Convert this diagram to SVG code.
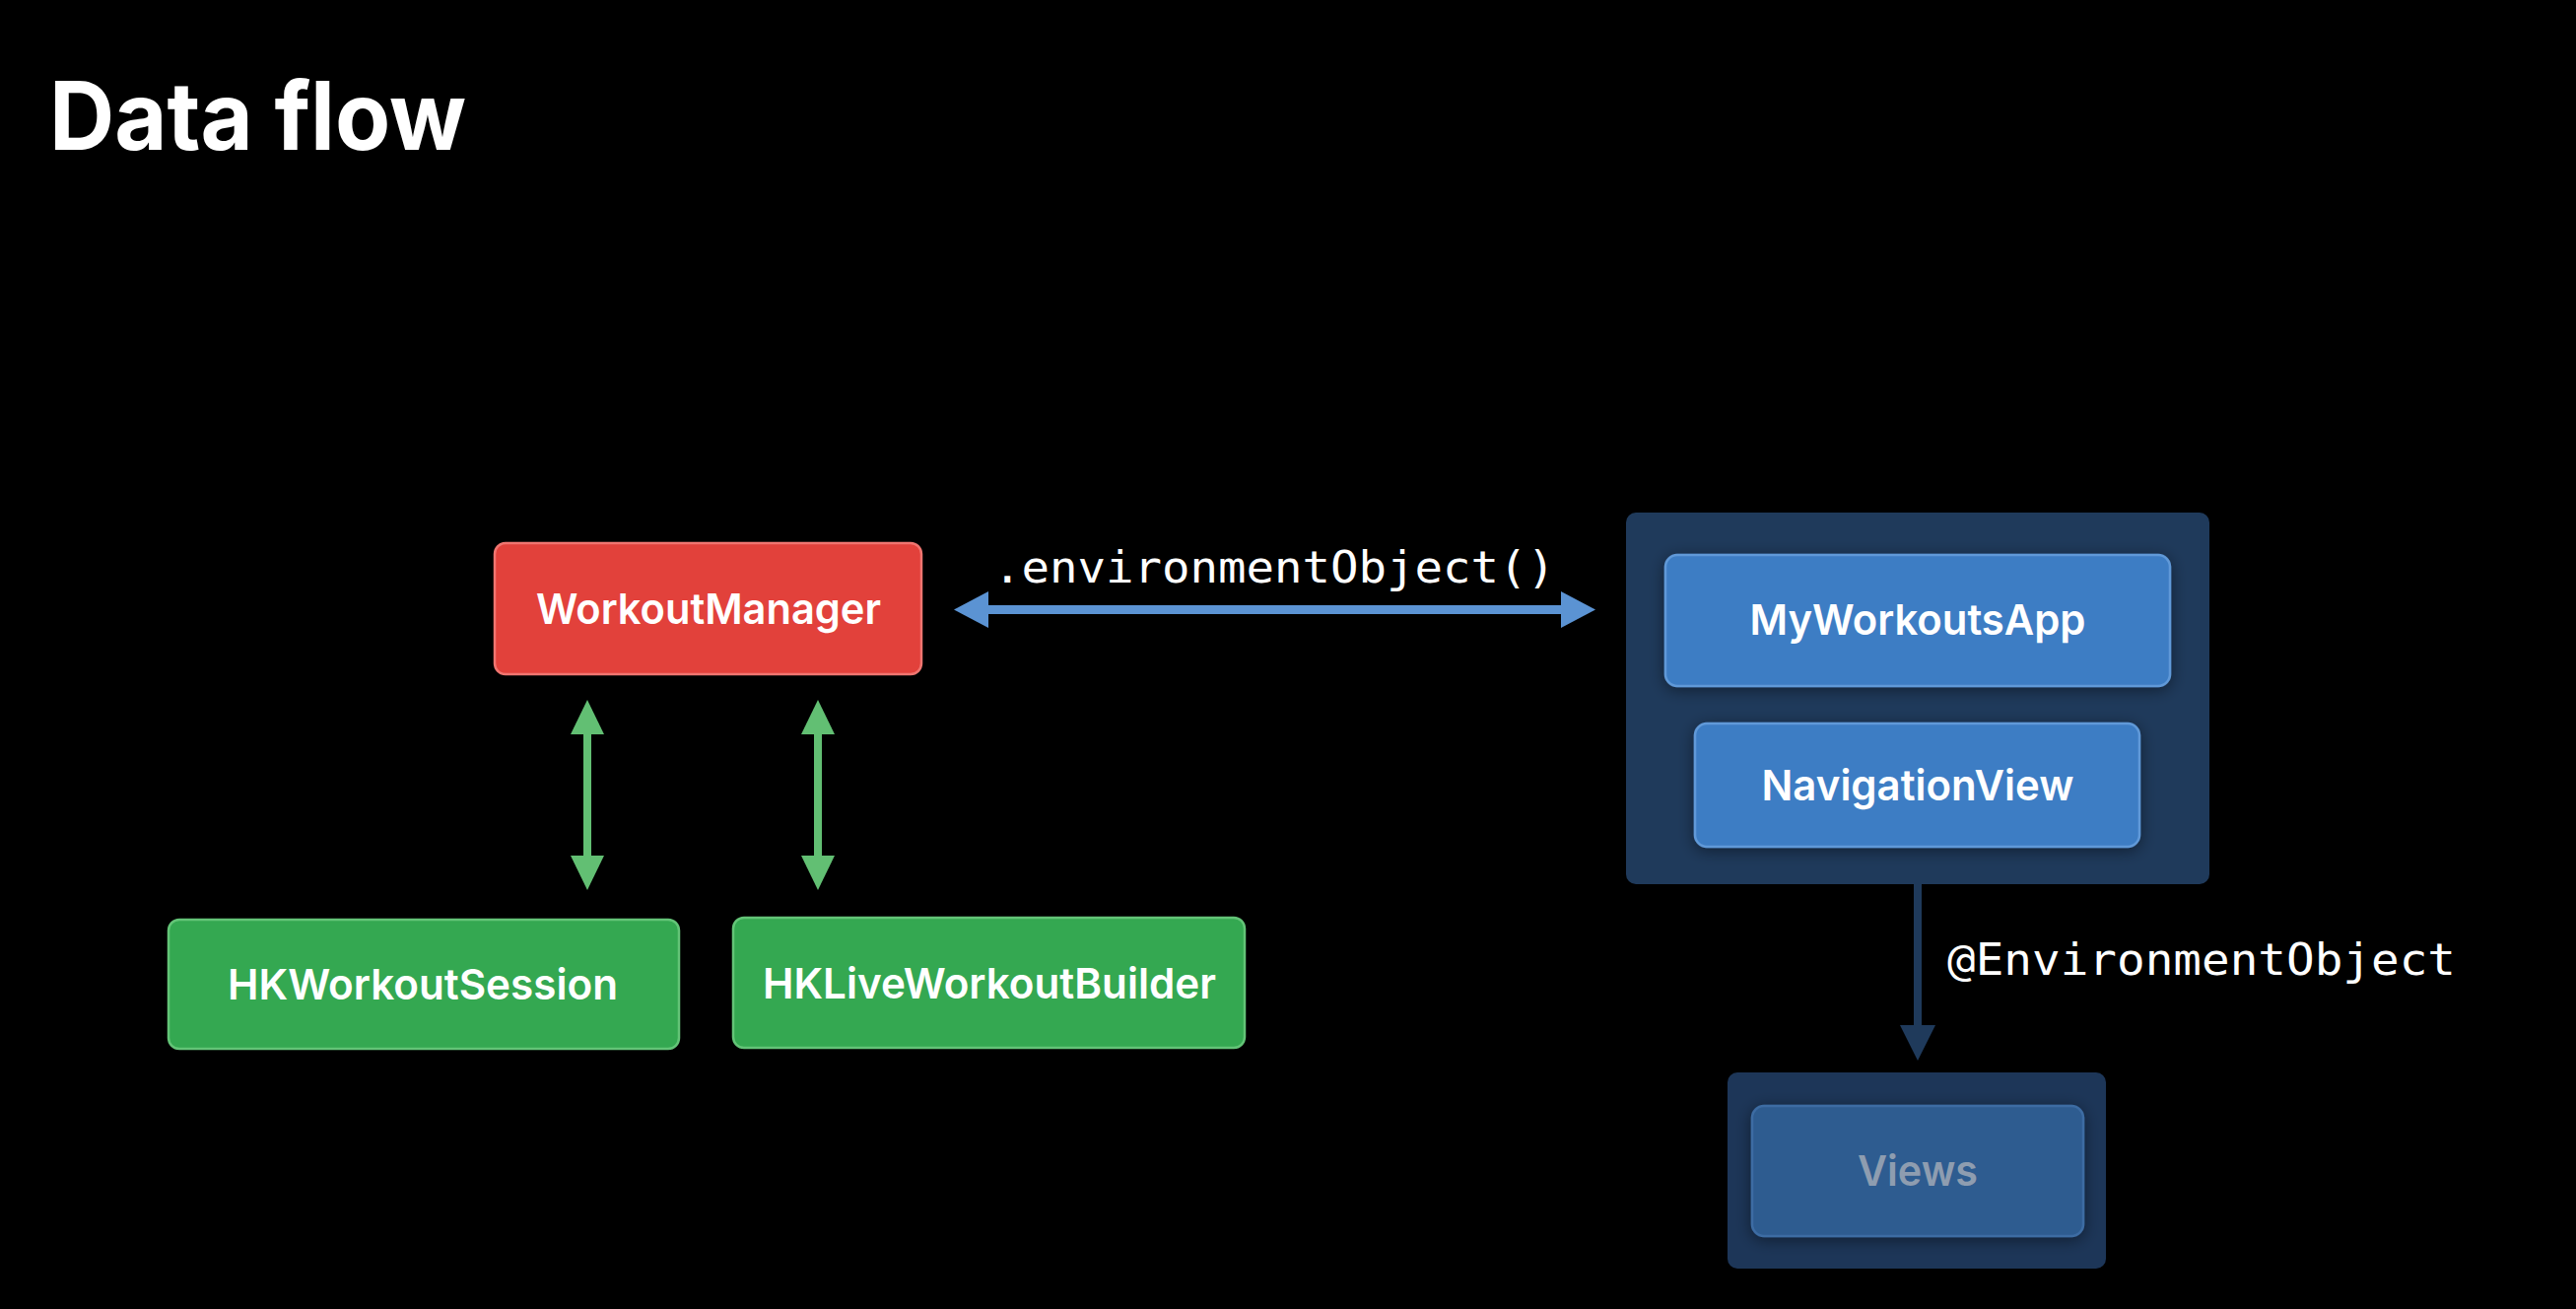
<svg xmlns="http://www.w3.org/2000/svg" width="2614" height="1328" viewBox="0 0 2614 1328">
  <style>
    .title { font-family: Inter, "Liberation Sans", sans-serif; font-weight: 700; font-size: 96px; fill: #ffffff; }
    .lbl { font-family: Inter, "Liberation Sans", sans-serif; font-weight: 600; font-size: 43px; fill: #ffffff; text-anchor: middle; }
    .code { font-family: "DejaVu Sans Mono", "Liberation Mono", monospace; font-size: 44px; fill: #ffffff; }
    .red { fill: #e2413b; stroke: #f07570; stroke-width: 2.5; }
    .green { fill: #34a851; stroke: #63c477; stroke-width: 2.5; }
    .blue { fill: #3e7dc4; stroke: #6099d8; stroke-width: 2.5; }
    .panel { fill: #1f3a5b; }
    .panel2 { fill: #1d3658; }
    .faded { fill: #2d5b90; stroke: #3d6ca3; stroke-width: 2.5; }
  </style>
  <defs>
    <filter id="sh" x="-20%" y="-30%" width="140%" height="160%">
      <feDropShadow dx="0" dy="3" stdDeviation="8" flood-color="#000000" flood-opacity="0.45"/>
    </filter>
  </defs>
  <rect x="0" y="0" width="2614" height="1328" fill="#000000"/>
  <text class="title" x="50" y="152" textLength="423" lengthAdjust="spacingAndGlyphs">Data flow</text>

  <g id="connectors">
    <g id="conn-env" fill="#5b93d3">
      <rect x="1000" y="614" width="587" height="9"/>
      <polygon points="968,618.5 1003,600 1003,637"/>
      <polygon points="1619,618.5 1584,600 1584,637"/>
    </g>
    <text class="code" x="1008" y="591" textLength="570" lengthAdjust="spacingAndGlyphs">.environmentObject()</text>
    <g id="conn-session" fill="#62bf73">
      <rect x="592" y="740" width="8" height="132"/>
      <polygon points="596,710 579,745 613,745"/>
      <polygon points="596,903 579,868 613,868"/>
    </g>
    <g id="conn-builder" fill="#62bf73">
      <rect x="826" y="740" width="8" height="132"/>
      <polygon points="830,710 813,745 847,745"/>
      <polygon points="830,903 813,868 847,868"/>
    </g>
    <g id="conn-views" fill="#1f3a5b">
      <rect x="1942" y="895" width="8" height="148"/>
      <polygon points="1946,1076 1928,1040 1964,1040"/>
    </g>
    <text class="code" x="1976" y="989" textLength="516" lengthAdjust="spacingAndGlyphs">@EnvironmentObject</text>
  </g>

  <g id="workoutmanager">
    <rect class="red" x="502" y="551" width="433" height="133" rx="11"/>
    <text class="lbl" x="719" y="633" textLength="350" lengthAdjust="spacingAndGlyphs">WorkoutManager</text>
  </g>

  <g id="hkworkoutsession">
    <rect class="green" x="171" y="933" width="518" height="131" rx="11"/>
    <text class="lbl" x="429" y="1014" textLength="396" lengthAdjust="spacingAndGlyphs">HKWorkoutSession</text>
  </g>

  <g id="hkliveworkoutbuilder">
    <rect class="green" x="744" y="931" width="519" height="132" rx="11"/>
    <text class="lbl" x="1004" y="1013" textLength="460" lengthAdjust="spacingAndGlyphs">HKLiveWorkoutBuilder</text>
  </g>

  <g id="app-container">
    <rect class="panel" x="1650" y="520" width="592" height="377" rx="10"/>
    <g id="myworkoutsapp">
      <rect class="blue" x="1690" y="563" width="512" height="133" rx="12" filter="url(#sh)"/>
      <text class="lbl" x="1946" y="644" textLength="341" lengthAdjust="spacingAndGlyphs">MyWorkoutsApp</text>
    </g>
    <g id="navigationview">
      <rect class="blue" x="1720" y="734" width="451" height="125" rx="12" filter="url(#sh)"/>
      <text class="lbl" x="1946" y="812" textLength="317" lengthAdjust="spacingAndGlyphs">NavigationView</text>
    </g>
  </g>

  <g id="views-container">
    <rect class="panel2" x="1753" y="1088" width="384" height="199" rx="10"/>
    <g id="views">
      <rect class="faded" x="1778" y="1122" width="336" height="132" rx="12" filter="url(#sh)"/>
      <text class="lbl" x="1946" y="1203" style="fill:#8e9db0" textLength="122" lengthAdjust="spacingAndGlyphs">Views</text>
    </g>
  </g>
</svg>
